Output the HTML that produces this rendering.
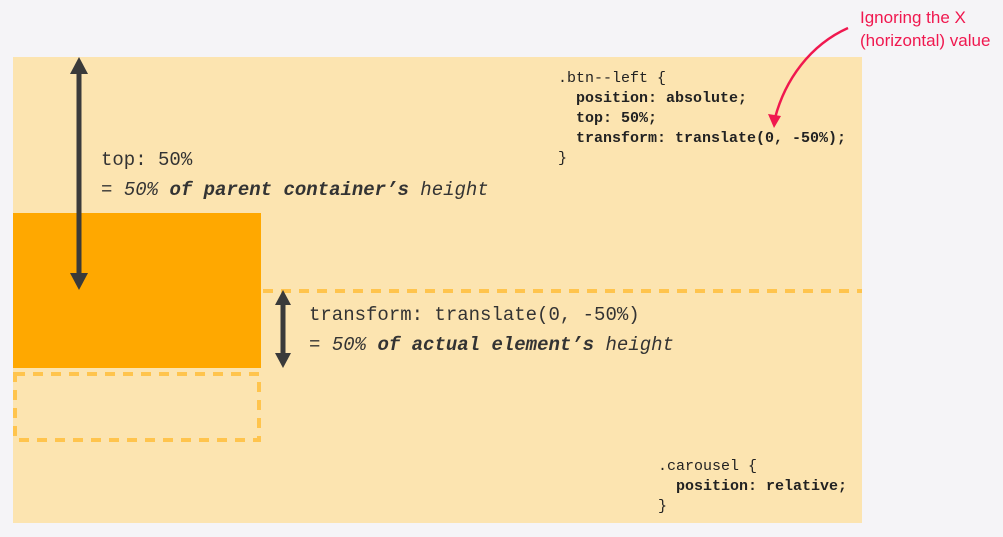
<!DOCTYPE html>
<html><head><meta charset="utf-8"><style>
body{margin:0;width:1003px;height:537px;background:#f5f4f7;position:relative;overflow:hidden;font-family:"Liberation Mono",monospace;color:#333}
.t{position:absolute;white-space:pre;line-height:1}
.code{font-size:15px;color:#222}
.lab{font-size:19px;color:#333}
</style></head><body>
<div style="position:absolute;left:13px;top:57px;width:849px;height:466px;background:#fce4b0"></div>
<div style="position:absolute;left:13px;top:213px;width:248px;height:155px;background:#ffa800"></div>
<svg width="1003" height="537" style="position:absolute;left:0;top:0">
<line x1="263" y1="291" x2="862" y2="291" stroke="#ffc44d" stroke-width="4" stroke-dasharray="10 8"/>
<rect x="15" y="374" width="244" height="66" fill="none" stroke="#ffc44d" stroke-width="4" stroke-dasharray="10 8"/>
<line x1="79" y1="70" x2="79" y2="278" stroke="#3a3a3a" stroke-width="5"/>
<polygon points="79,57 70,74 88,74" fill="#3a3a3a"/>
<polygon points="79,290 70,273 88,273" fill="#3a3a3a"/>
<line x1="283" y1="302" x2="283" y2="356" stroke="#3a3a3a" stroke-width="5"/>
<polygon points="283,290 275,305 291,305" fill="#3a3a3a"/>
<polygon points="283,368 275,353 291,353" fill="#3a3a3a"/>
<path d="M848,28 C810,45 785,80 775,118" fill="none" stroke="#f0184f" stroke-width="2.5"/>
<polygon points="774,128 768,114 781,116" fill="#f0184f"/>
</svg>
<div class="t lab" style="left:101px;top:151px">top: 50%</div>
<div class="t lab" style="left:101px;top:181px">= <i>50%</i> <b><i>of parent container’s</i></b> <i>height</i></div>
<div class="t lab" style="left:309px;top:306px">transform: translate(0, -50%)</div>
<div class="t lab" style="left:309px;top:336px">= <i>50%</i> <b><i>of actual element’s</i></b> <i>height</i></div>
<div class="t code" style="left:558px;top:69px;line-height:20px">.btn--left {
  <b>position: absolute;</b>
  <b>top: 50%;</b>
  <b>transform: translate(0, -50%);</b>
}</div>
<div class="t code" style="left:658px;top:457px;line-height:20px">.carousel {
  <b>position: relative;</b>
}</div>
<div class="t" style="left:860px;top:6px;font-family:'Liberation Sans',sans-serif;font-size:17px;color:#f0184f;line-height:23px">Ignoring the X
(horizontal) value</div>
</body></html>
